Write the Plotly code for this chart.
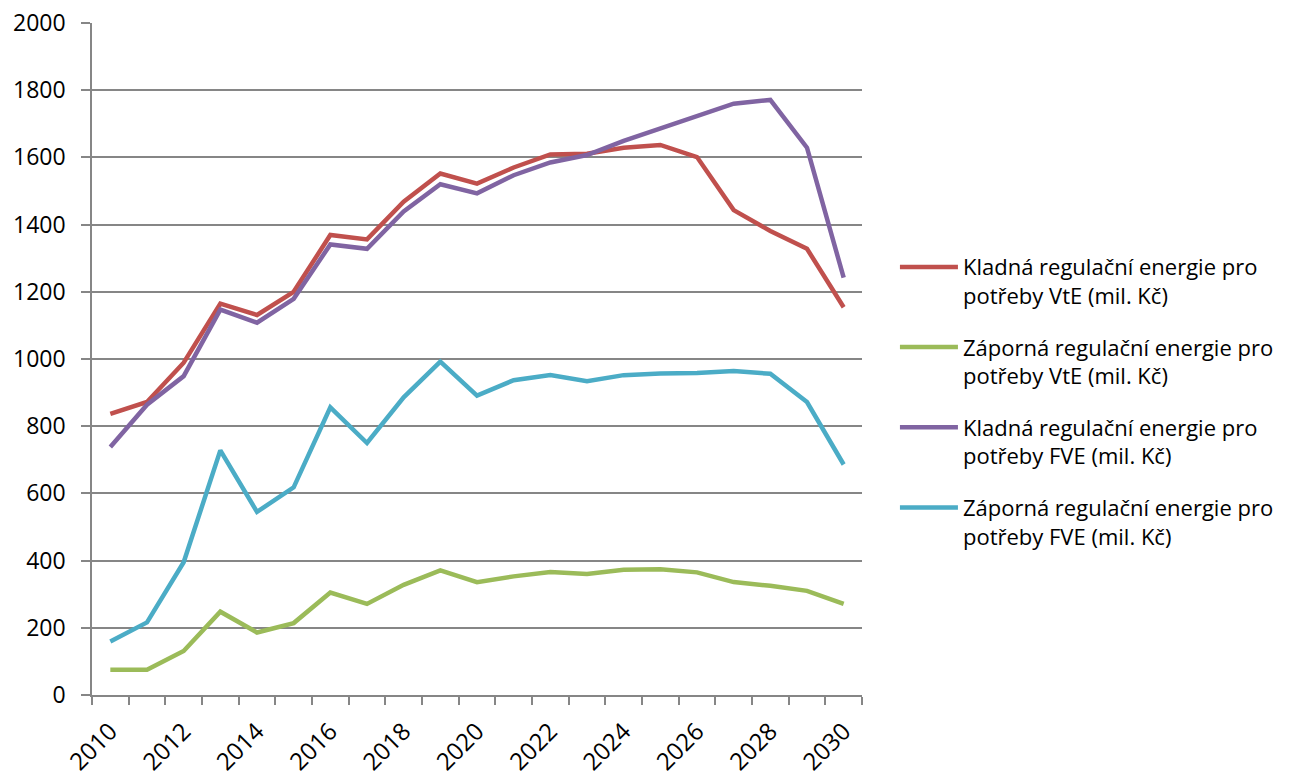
import plotly.graph_objects as go

years = list(range(2010, 2031))
kladna_vte = [837, 872, 989, 1165, 1131, 1200, 1369, 1356, 1468, 1552, 1522,
              1570, 1609, 1611, 1629, 1637, 1601, 1443, 1381, 1328, 1154]
zaporna_vte = [75, 75, 131, 248, 186, 214, 305, 271, 328, 371, 336,
               353, 366, 360, 373, 374, 365, 336, 325, 310, 271]
kladna_fve = [738, 864, 949, 1147, 1108, 1179, 1341, 1328, 1439, 1520, 1493,
              1547, 1585, 1607, 1649, 1687, 1724, 1760, 1771, 1629, 1242]
zaporna_fve = [159, 216, 395, 728, 545, 618, 856, 750, 886, 992, 891,
               937, 952, 934, 952, 957, 958, 964, 956, 872, 686]

names = [
    "Kladná regulační energie pro<br>potřeby VtE (mil. Kč)",
    "Záporná regulační energie pro<br>potřeby VtE (mil. Kč)",
    "Kladná regulační energie pro<br>potřeby FVE (mil. Kč)",
    "Záporná regulační energie pro<br>potřeby FVE (mil. Kč)",
]
colors = ["#C0504D", "#9BBB59", "#8064A2", "#4BACC6"]
series = [kladna_vte, zaporna_vte, kladna_fve, zaporna_fve]

y_ticks = list(range(0, 2001, 200))
x_ticks = list(range(2010, 2031, 2))

fig = go.Figure()
for i, (nm, col, vals) in enumerate(zip(names, colors, series)):
    fig.add_trace(go.Scatter(
        x=years, y=vals, mode="lines", name=nm,
        line=dict(color=col, width=4.5),
        legendgroup=f"g{i}",
    ))

fig.update_layout(
    width=1283, height=771,
    margin=dict(l=84, r=429, t=15, b=84),
    paper_bgcolor="white", plot_bgcolor="white",
    font=dict(family="Open Sans", size=22, color="black"),
    showlegend=True,
    legend=dict(
        xref="container", x=0.6913, xanchor="left",
        yref="paper", y=0.668, yanchor="top",
        font=dict(size=22, family="Open Sans"),
        tracegroupgap=20, itemwidth=58, valign="top",
        bgcolor="rgba(0,0,0,0)",
    ),
    xaxis=dict(
        range=[2009.5, 2030.5],
        tickvals=x_ticks, ticktext=[str(v) for v in x_ticks],
        tickangle=-45, ticks="", showgrid=False,
        showline=True, linecolor="#868686", linewidth=1.5,
        tickfont=dict(size=24),
        ticklabelstandoff=11, ticklabeloverflow="allow",
        minor=dict(tick0=2009.5, dtick=1, ticks="outside", ticklen=8,
                   tickcolor="#868686", tickwidth=1.5, showgrid=False),
        zeroline=False, automargin=False,
    ),
    yaxis=dict(
        range=[0, 2000], tickvals=y_ticks,
        showgrid=True, gridcolor="#868686", gridwidth=1.5,
        showline=True, linecolor="#868686", linewidth=1.5,
        ticks="outside", ticklen=9, tickcolor="#868686", tickwidth=1.5,
        ticklabelstandoff=11, ticklabeloverflow="allow",
        tickfont=dict(size=23), zeroline=False, automargin=False,
    ),
)

fig.write_html("out.html")
